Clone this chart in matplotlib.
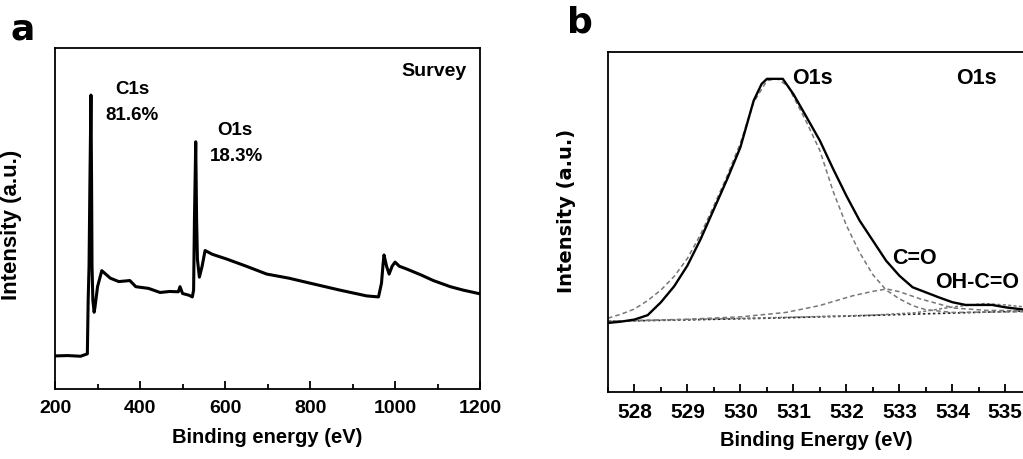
# XPS survey and O1s high-resolution spectra
import matplotlib.pyplot as plt
from matplotlib.ticker import MultipleLocator

# panel a: survey spectrum (arbitrary units)
survey_ev = [200, 230, 260, 276, 278, 280, 282, 284.5, 286, 287, 289, 292, 294,
             300, 310, 330, 350, 376, 390, 420, 447, 470, 490, 494, 500, 515,
             523, 526, 528, 531, 533, 535, 539.6, 546, 553, 570, 604, 650, 698,
             750, 808, 870, 933, 961, 968, 972, 974, 980, 986, 993, 1000, 1010,
             1027, 1060, 1090, 1130, 1160, 1200]
survey_int = [9.7, 9.8, 9.6, 10.3, 26.4, 36, 60, 86.2, 60, 36, 26, 22.5, 24,
              30, 34.7, 32.5, 31.5, 31.8, 30, 29.5, 28.3, 28.6, 28.5, 30, 28,
              27.5, 27, 29, 50, 72.5, 50, 38, 32.8, 36, 40.6, 39.5, 38.1, 36, 33.7,
              32.5, 30.8, 29, 27.3, 27, 31, 37, 39.3, 36, 33.7, 36, 37.2, 36,
              35.2, 33.5, 31.8, 30, 29, 27.9]

# panel b: O1s spectrum and fitted components
o1s_ev = [527.5, 527.75, 528.0, 528.25, 528.5, 528.75, 529.0, 529.25, 529.5,
          529.75, 530.0, 530.25, 530.4, 530.5, 530.8, 531.0, 531.25, 531.5,
          531.75, 532.0, 532.25, 532.5, 532.75, 533.0, 533.25, 533.5, 533.75,
          534.0, 534.25, 534.5, 534.75, 535.0, 535.37]
o1s_int = [20.3, 20.7, 21.3, 22.6, 26.4, 31.1, 37.2, 45.0, 53.8, 62.6, 72.0,
           85.7, 90.6, 92.1, 92.1, 87.6, 80.8, 73.9, 65.6, 57.7, 50.4, 44.5,
           38.6, 34.2, 30.8, 29.3, 27.8, 26.4, 25.6, 25.6, 25.6, 24.9, 24.2]

bg_ev = [527.5, 529.0, 530.5, 532.0, 533.5, 535.37]
bg_int = [20.8, 21.2, 21.7, 22.3, 23.0, 23.8]

oxide_ev = [527.5, 527.75, 528.0, 528.25, 528.5, 528.75, 529.0, 529.25, 529.5,
            529.75, 530.0, 530.25, 530.5, 530.7, 530.9, 531.25, 531.5, 531.75,
            532.0, 532.25, 532.5, 532.75, 533.0, 533.25, 533.5, 534.0, 535.37]
oxide_int = [21.7, 22.9, 24.4, 26.9, 30.0, 34.0, 39.3, 46.4, 54.8, 63.6, 73.2,
             85.2, 91.6, 92.1, 89.9, 79.3, 71.0, 59.0, 49.0, 41.0, 34.5, 30.0,
             27.4, 25.4, 24.2, 23.4, 23.6]

co_ev = [527.5, 529.0, 530.0, 530.86, 531.49, 532.12, 532.5, 532.76, 533.0,
         533.39, 534.02, 534.65, 535.37]
co_int = [20.8, 21.4, 22.1, 23.4, 25.4, 28.3, 29.6, 30.3, 29.5, 27.4, 24.7,
          24.0, 23.9]

ohco_ev = [527.5, 531.0, 532.5, 533.3, 534.0, 534.6, 535.0, 535.37]
ohco_int = [20.8, 22.0, 22.6, 23.3, 25.0, 26.0, 25.6, 25.0]

plt.rcParams['font.family'] = ['Liberation Sans', 'DejaVu Sans']
plt.rcParams['font.weight'] = 'bold'

fig = plt.figure(figsize=(10.23, 4.6), dpi=100)

# ---- panel a ----
ax1 = fig.add_axes([0.0538, 0.1522, 0.4155, 0.7413])
ax1.plot(survey_ev, survey_int, color='black', lw=2.2, solid_joinstyle='round')
ax1.set_xlim(200, 1200)
ax1.set_ylim(0, 100)
ax1.xaxis.set_major_locator(MultipleLocator(200))
ax1.xaxis.set_minor_locator(MultipleLocator(100))
ax1.set_yticks([])
ax1.tick_params(axis='x', which='major', direction='in', length=6, width=1.3,
                labelsize=14, pad=7)
ax1.tick_params(axis='x', which='minor', direction='in', length=3.5, width=1.3)
for s in ax1.spines.values():
    s.set_linewidth(1.3)
ax1.set_xlabel('Binding energy (eV)', fontsize=14.5, fontweight='bold', labelpad=8)
ax1.set_ylabel('Intensity (a.u.)', fontsize=16, fontweight='bold')
ax1.yaxis.set_label_coords(-0.078, 0.484)

ax1.text(381, 88.1, 'C1s', ha='center', va='center', fontsize=13.5)
ax1.text(381, 80.6, '81.6%', ha='center', va='center', fontsize=13.5)
ax1.text(624, 76.2, 'O1s', ha='center', va='center', fontsize=13.5)
ax1.text(626, 68.5, '18.3%', ha='center', va='center', fontsize=13.5)
ax1.text(1169, 93.4, 'Survey', ha='right', va='center', fontsize=14)

fig.text(0.0225, 0.935, 'a', fontsize=26, fontweight='bold',
         family='DejaVu Sans', ha='center', va='center')

# ---- panel b ----
ax2 = fig.add_axes([0.5943, 0.1457, 0.4076, 0.7391])
ax2.plot(bg_ev, bg_int, color='#222222', lw=1.2, ls=(0, (1.5, 1.5)))
ax2.plot(oxide_ev, oxide_int, color='#777777', lw=1.1, ls=(0, (3, 2)))
ax2.plot(co_ev, co_int, color='#777777', lw=1.1, ls=(0, (3, 2)))
ax2.plot(ohco_ev, ohco_int, color='#777777', lw=1.1, ls=(0, (2, 1.5)))
ax2.plot(o1s_ev, o1s_int, color='black', lw=1.7)
ax2.set_xlim(527.5, 535.37)
ax2.set_ylim(0, 100)
ax2.xaxis.set_major_locator(MultipleLocator(1))
ax2.xaxis.set_minor_locator(MultipleLocator(0.5))
ax2.set_yticks([])
ax2.tick_params(axis='x', which='major', direction='in', length=6, width=1.3,
                labelsize=15, pad=7)
ax2.tick_params(axis='x', which='minor', direction='in', length=3.5, width=1.3)
for s in ax2.spines.values():
    s.set_linewidth(1.3)
ax2.set_xlabel('Binding Energy (eV)', fontsize=14.5, fontweight='bold', labelpad=7)
ax2.set_ylabel('Intensity (a.u.)', fontsize=14, fontweight='bold',
               family='DejaVu Sans')
ax2.yaxis.set_label_coords(-0.077, 0.535)

ax2.text(530.97, 92.5, 'O1s', ha='left', va='center', fontsize=15.5)
ax2.text(534.08, 92.5, 'O1s', ha='left', va='center', fontsize=15.5)
ax2.text(532.86, 39.6, 'C=O', ha='left', va='center', fontsize=15.5)
ax2.text(533.67, 32.5, 'OH-C=O', ha='left', va='center', fontsize=15.5)

fig.text(0.567, 0.952, 'b', fontsize=26, fontweight='bold',
         family='DejaVu Sans', ha='center', va='center')

fig.savefig('out.png', dpi=100)
